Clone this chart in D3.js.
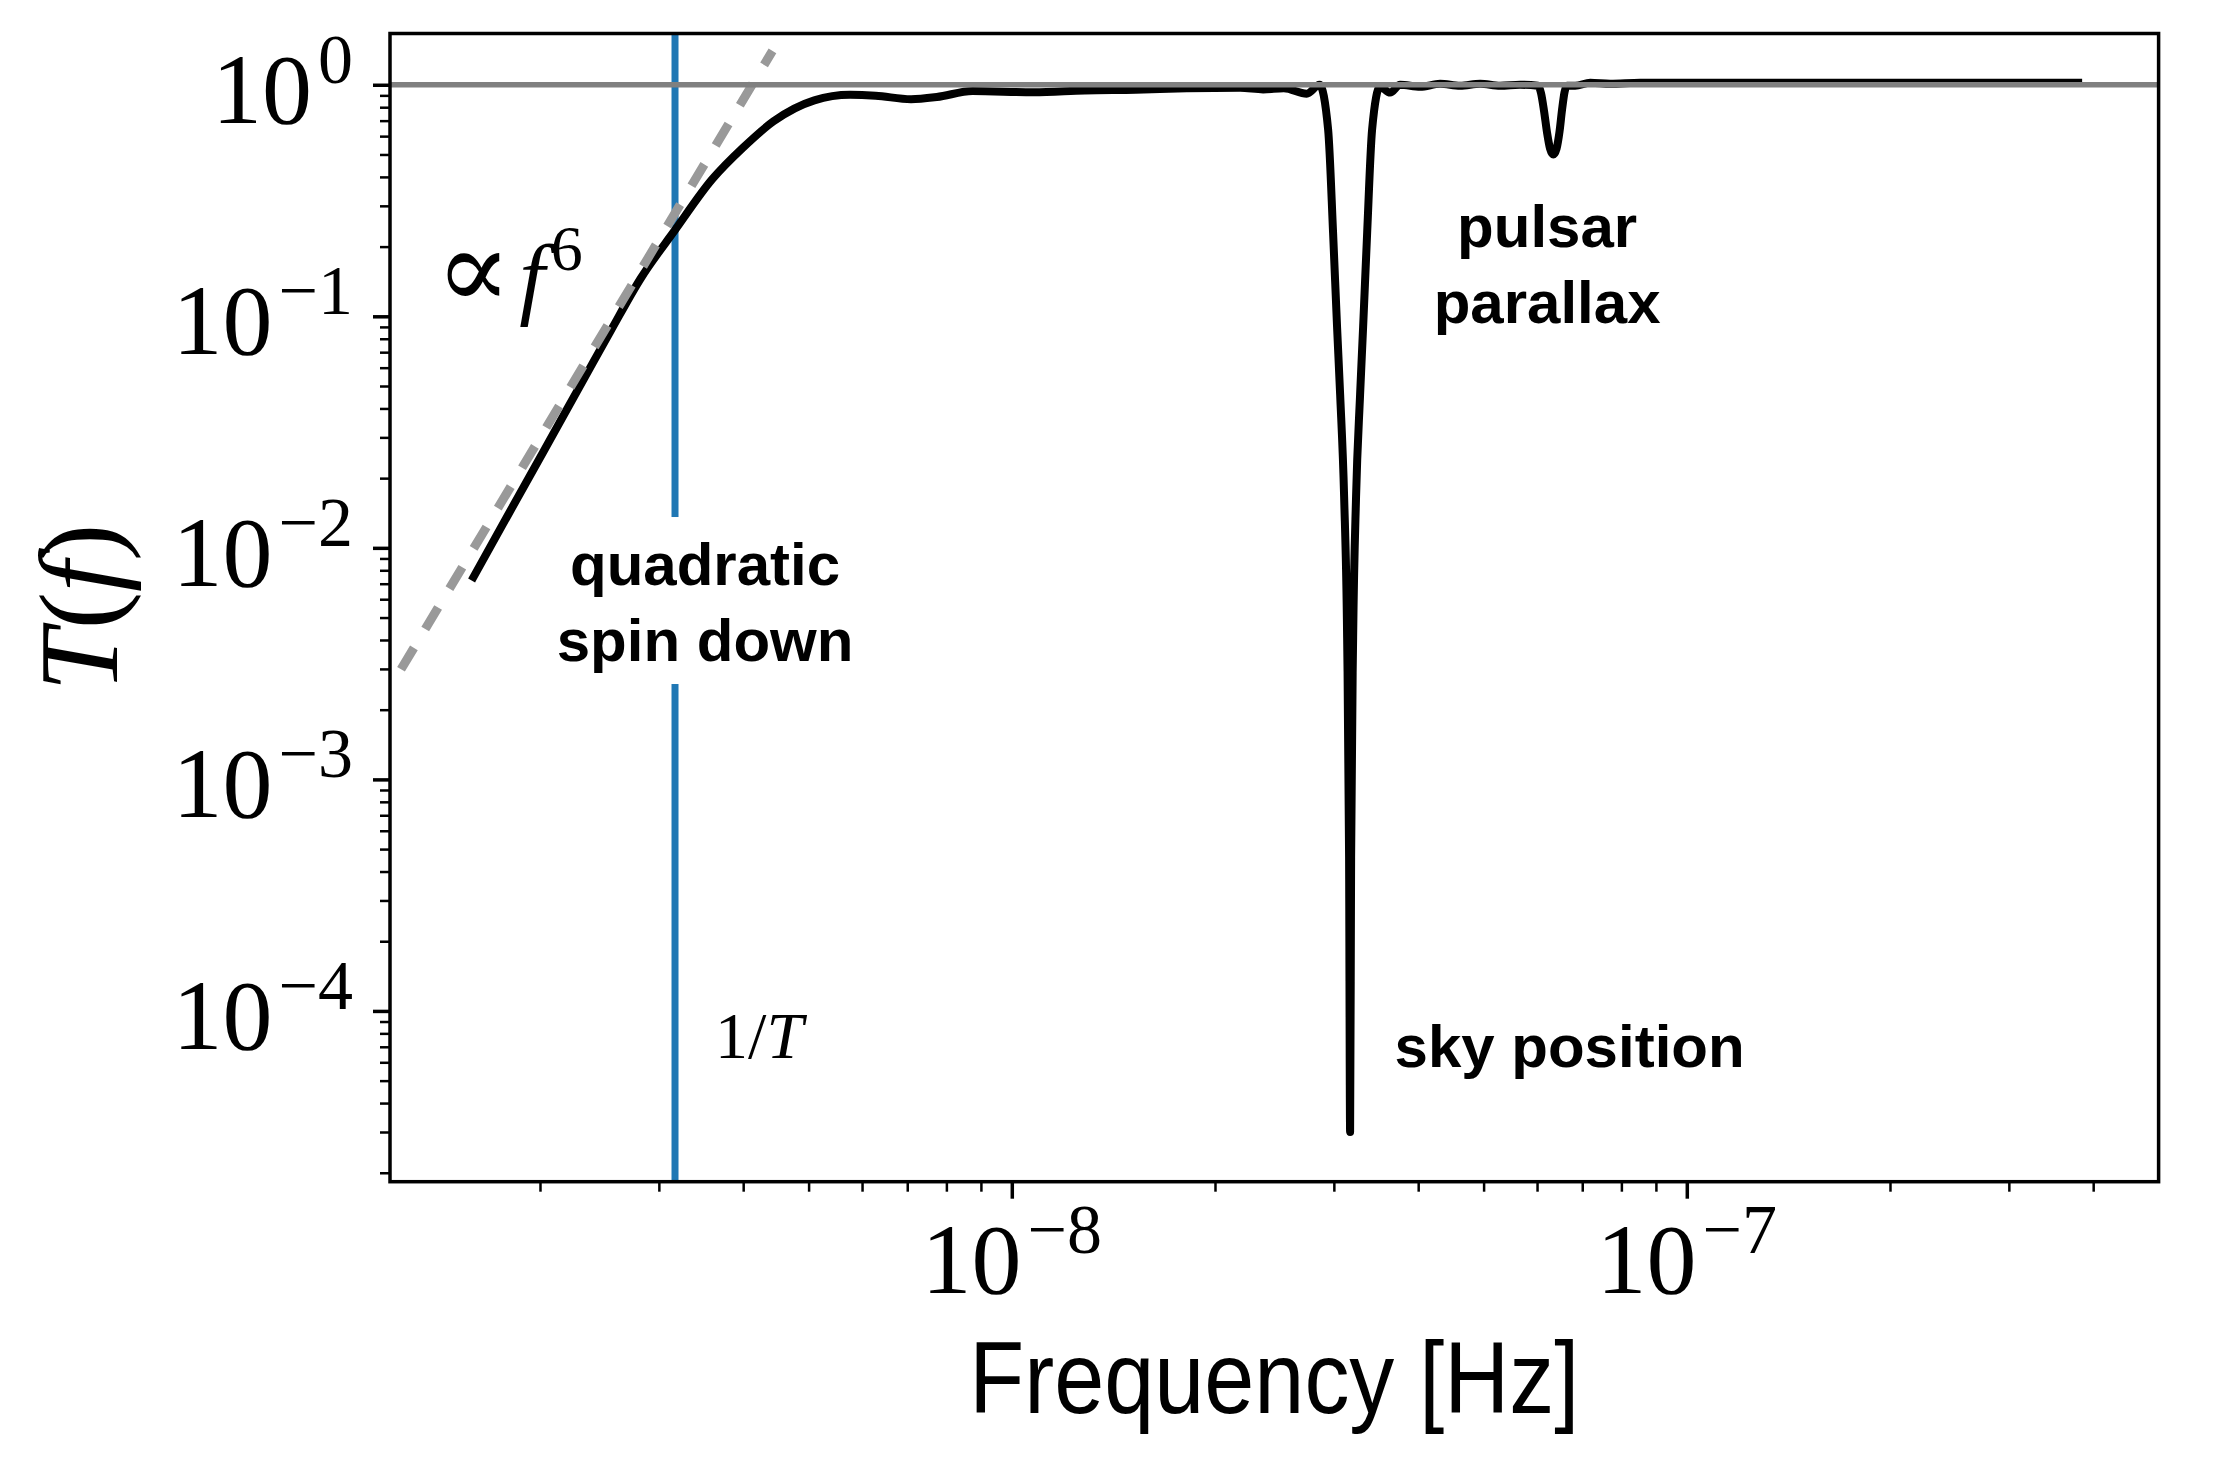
<!DOCTYPE html>
<html>
<head>
<meta charset="utf-8">
<script src="https://cdn.jsdelivr.net/npm/d3@7"></script>
<style>
  body { margin: 0; background: #fff; }
</style>
</head>
<body>
<div id="chart"></div>
<script>
// transfer function (frequency in Hz, T(f) dimensionless)
var freq = [
  1.584e-9, 1.795e-9, 2.028e-9, 2.330e-9, 2.542e-9, 2.821e-9, 3.171e-9, 3.597e-9,
  3.998e-9, 4.436e-9, 5.098e-9, 5.760e-9, 6.285e-9, 7.091e-9, 7.742e-9, 8.746e-9,
  1.078e-8, 1.283e-8, 1.526e-8, 1.816e-8, 2.179e-8, 2.357e-8, 2.529e-8, 2.735e-8,
  2.857e-8, 2.942e-8, 2.992e-8, 3.033e-8, 3.065e-8, 3.107e-8, 3.139e-8, 3.160e-8,
  3.171e-8, 3.182e-8, 3.204e-8, 3.236e-8, 3.281e-8, 3.315e-8, 3.361e-8, 3.418e-8,
  3.512e-8, 3.635e-8, 3.761e-8, 4.027e-8, 4.310e-8, 4.615e-8, 4.941e-8, 5.290e-8,
  5.662e-8, 6.020e-8, 6.082e-8, 6.145e-8, 6.209e-8, 6.272e-8, 6.343e-8, 6.413e-8,
  6.479e-8, 6.534e-8, 6.590e-8, 6.646e-8, 6.834e-8, 7.193e-8, 7.700e-8, 8.530e-8,
  1.0e-7, 2.0e-7, 3.852e-7
];
var transfer = [
  7.23e-3, 0.01394, 0.02633, 0.0545, 0.0859, 0.146, 0.236, 0.390,
  0.535, 0.695, 0.856, 0.905, 0.897, 0.866, 0.885, 0.940,
  0.928, 0.945, 0.952, 0.965, 0.970, 0.955, 0.965, 0.915,
  1.0, 0.64, 0.23, 0.09, 0.046, 0.0166, 0.0041, 4.6e-4,
  3.0e-5, 4.6e-4, 0.0041, 0.0166, 0.046, 0.09, 0.23, 0.64,
  0.98, 0.925, 1.0, 0.98, 1.01, 0.99, 1.01, 0.99,
  1.0, 0.99, 0.92, 0.77, 0.62, 0.53, 0.50, 0.53,
  0.63, 0.78, 0.93, 0.99, 0.99, 1.02, 1.01, 1.02,
  1.02, 1.02, 1.02
];

// f^6 guide line end points
var fitFreq = [1.245e-9, 4.42e-9];
var fitT = [2.99e-3, 1.40];

// 1/T with T = 10 yr
var invT = 3.17e-9;

var xMajor = [1e-8, 1e-7];
var xLabels = ["\u22128", "\u22127"];
var yMajor = [1, 1e-1, 1e-2, 1e-3, 1e-4];
var yLabels = ["0", "\u22121", "\u22122", "\u22123", "\u22124"];

var notes = [
  {lines: ["quadratic", "spin down"], f: 3.512e-9, t: 6.91e-3, anchor: "middle", box: true},
  {lines: ["pulsar", "parallax"], f: 6.21e-8, t: 0.199, anchor: "middle", box: false},
  {lines: ["sky position"], f: 3.69e-8, t: 5.71e-5, anchor: "start", box: false}
];

(function() {
var W = 2213, H = 1460;
var pL = 390, pR = 2158.6, pT = 33.5, pB = 1181.7;

var svg = d3.select("#chart").append("svg")
    .attr("width", W)
    .attr("height", H);

var x = d3.scaleLog().domain([1.199e-9, 5.0e-7]).range([pL, pR]);
var y = d3.scaleLog().domain([1.83e-5, 1.665]).range([pB, pT]);

svg.append("clipPath").attr("id", "plot")
  .append("rect")
    .attr("x", pL).attr("y", pT)
    .attr("width", pR - pL).attr("height", pB - pT);

var plot = svg.append("g").attr("clip-path", "url(#plot)");

// vertical 1/T line
plot.append("line")
    .attr("x1", x(invT)).attr("x2", x(invT))
    .attr("y1", pT).attr("y2", pB)
    .attr("stroke", "#1f77b4")
    .attr("stroke-width", 7);

// main curve
var pts = freq.map(function(f, i) { return {f: f, t: transfer[i]}; });
var line = d3.line()
    .x(function(d) { return x(d.f); })
    .y(function(d) { return y(d.t); })
    .curve(d3.curveMonotoneX);

plot.append("path")
    .datum(pts)
    .attr("d", line)
    .attr("fill", "none")
    .attr("stroke", "#000")
    .attr("stroke-width", 8)
    .attr("stroke-linejoin", "round");

// f^6 guide
plot.append("path")
    .datum(fitFreq.map(function(f, i) { return {f: f, t: fitT[i]}; }))
    .attr("d", d3.line().x(function(d) { return x(d.f); }).y(function(d) { return y(d.t); }))
    .attr("fill", "none")
    .attr("stroke", "#999999")
    .attr("stroke-width", 9)
    .attr("stroke-dasharray", "25 22");

// T = 1 reference
plot.append("line")
    .attr("x1", pL).attr("x2", pR)
    .attr("y1", y(1)).attr("y2", y(1))
    .attr("stroke", "#808080")
    .attr("stroke-width", 5.5);

// annotations
notes.forEach(function(n) {
  var g = svg.append("g");
  var txt = g.append("text")
      .attr("x", x(n.f))
      .attr("y", y(n.t))
      .attr("text-anchor", n.anchor)
      .style("font-family", "'Liberation Sans', Arial, sans-serif")
      .style("font-weight", "bold")
      .style("font-size", "60px");
  n.lines.forEach(function(s, i) {
    txt.append("tspan")
        .attr("x", x(n.f))
        .attr("dy", i === 0 ? 0 : 76)
        .text(s);
  });
  if (n.box) {
    var bb = txt.node().getBBox();
    g.insert("rect", "text")
        .attr("x", bb.x - 12).attr("y", bb.y - 14)
        .attr("width", bb.width + 24).attr("height", bb.height + 24)
        .attr("fill", "#fff");
  }
});

var serif = "'Liberation Serif', 'DejaVu Serif', serif";

// 1/T label
var lt = svg.append("text")
    .attr("x", x(3.634e-9)).attr("y", y(6.28e-5))
    .style("font-family", serif)
    .style("font-size", "66px");
lt.append("tspan").text("1/");
lt.append("tspan").style("font-style", "italic").text("T");

// proportional to f^6 label
var pf = svg.append("text")
    .attr("x", x(1.40e-9)).attr("y", y(0.1086))
    .style("font-family", serif)
    .style("font-size", "92px");
pf.append("tspan").style("font-family", "'DejaVu Serif', serif").style("font-size", "112px").text("\u221D");
pf.append("tspan").attr("dx", 8).style("font-style", "italic").text("f");
pf.append("tspan").attr("dx", 6).attr("dy", -38).style("font-size", "64px").text("6");

// axes: minor ticks
var yMinor = [], xMinor = [];
[-5, -4, -3, -2, -1, 0].forEach(function(e) {
  for (var m = 2; m <= 9; m++) {
    var v = m * Math.pow(10, e);
    if (v > 1.83e-5 && v < 1.665) yMinor.push(v);
  }
});
[-9, -8, -7].forEach(function(e) {
  for (var m = 2; m <= 9; m++) {
    var v = m * Math.pow(10, e);
    if (v > 1.2e-9 && v < 5.0e-7) xMinor.push(v);
  }
});

function styleAxis(g, w) {
  g.select(".domain").remove();
  g.selectAll(".tick line").attr("stroke", "#000").attr("stroke-width", w);
  g.selectAll(".tick text").remove();
}

svg.append("g").attr("transform", "translate(" + pL + ",0)")
    .call(d3.axisLeft(y).tickValues(yMinor).tickSize(10))
    .call(styleAxis, 2.5);
svg.append("g").attr("transform", "translate(" + pL + ",0)")
    .call(d3.axisLeft(y).tickValues(yMajor).tickSize(17))
    .call(styleAxis, 3.5);
svg.append("g").attr("transform", "translate(0," + pB + ")")
    .call(d3.axisBottom(x).tickValues(xMinor).tickSize(10))
    .call(styleAxis, 2.5);
svg.append("g").attr("transform", "translate(0," + pB + ")")
    .call(d3.axisBottom(x).tickValues(xMajor).tickSize(17))
    .call(styleAxis, 3.5);

// tick labels 10^k
yMajor.forEach(function(v, i) {
  var t = svg.append("text")
      .attr("x", 353).attr("y", y(v) + 38)
      .attr("text-anchor", "end")
      .style("font-family", serif)
      .style("font-size", "100px");
  t.append("tspan").text("10");
  t.append("tspan").attr("dx", 6).attr("dy", -40).style("font-size", "70px").text(yLabels[i]);
});
xMajor.forEach(function(v, i) {
  var t = svg.append("text")
      .attr("x", x(v)).attr("y", 1293)
      .attr("text-anchor", "middle")
      .style("font-family", serif)
      .style("font-size", "100px");
  t.append("tspan").text("10");
  t.append("tspan").attr("dx", 6).attr("dy", -40).style("font-size", "70px").text(xLabels[i]);
});

// axis titles
svg.append("text")
    .attr("x", (pL + pR) / 2).attr("y", 1413)
    .attr("text-anchor", "middle")
    .attr("textLength", 610)
    .attr("lengthAdjust", "spacingAndGlyphs")
    .style("font-family", "'Liberation Sans', Arial, sans-serif")
    .style("font-size", "102px")
    .text("Frequency [Hz]");

var yl = svg.append("text")
    .attr("transform", "translate(117," + ((pT + pB) / 2) + ") rotate(-90)")
    .attr("text-anchor", "middle")
    .style("font-family", serif)
    .style("font-size", "112px");
yl.append("tspan").style("font-style", "italic").text("T");
yl.append("tspan").text("(");
yl.append("tspan").style("font-style", "italic").text("f");
yl.append("tspan").text(")");

// frame
svg.append("rect")
    .attr("x", pL).attr("y", pT)
    .attr("width", pR - pL).attr("height", pB - pT)
    .attr("fill", "none")
    .attr("stroke", "#000")
    .attr("stroke-width", 3.5);
})();
</script>
</body>
</html>
